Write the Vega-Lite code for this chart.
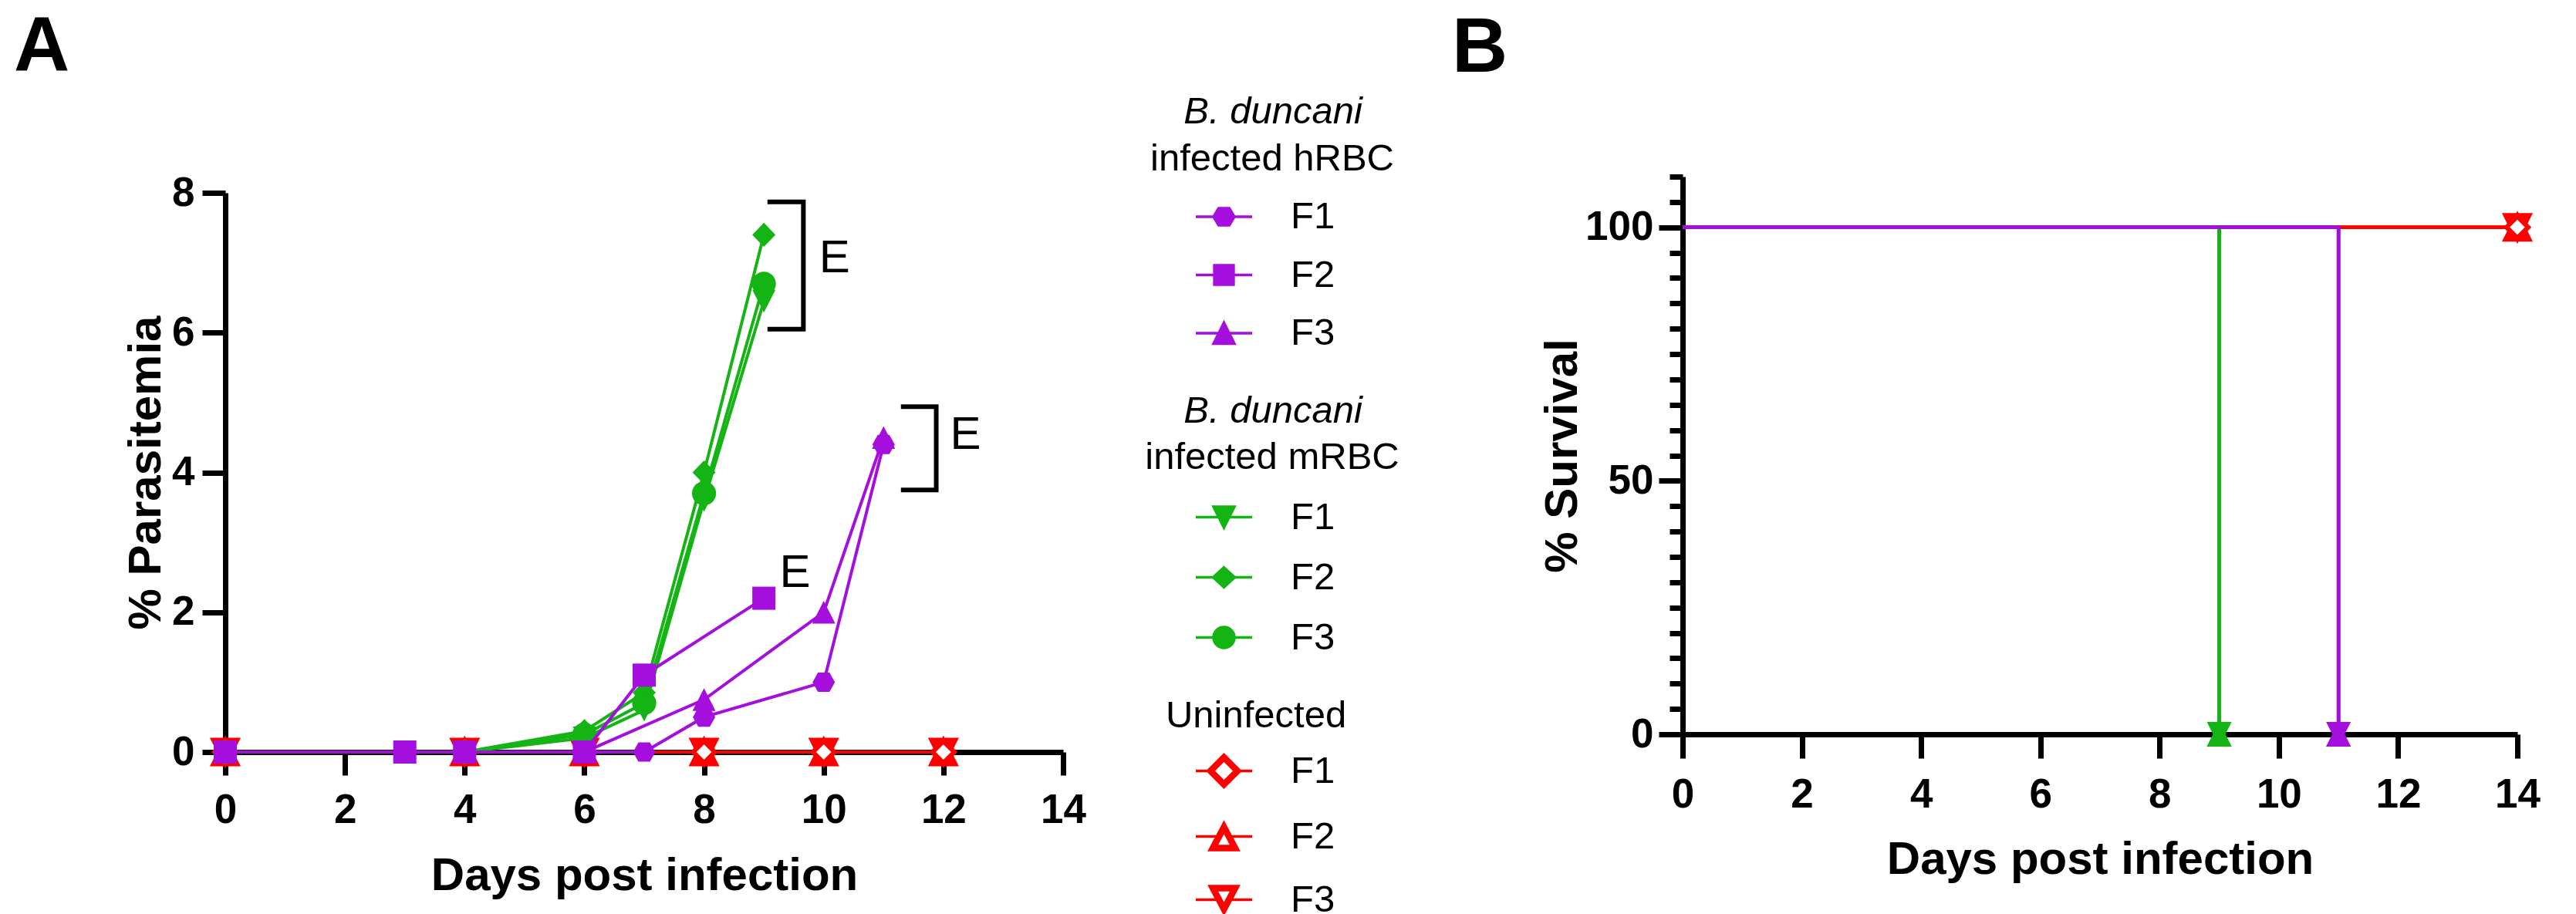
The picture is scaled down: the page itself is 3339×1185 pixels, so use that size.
{
  "$schema": "https://vega.github.io/schema/vega-lite/v6.json",
  "padding": {"left": 18, "top": 11, "right": 5, "bottom": 0},
  "autosize": {"type": "pad"},
  "background": "white",
  "spacing": 68,
  "config": {
    "font": "Liberation Sans",
    "view": {"stroke": null},
    "axis": {
      "domainColor": "#000000", "domainWidth": 7, "tickColor": "#000000", "tickWidth": 7, "format": "d",
      "labelColor": "#000000", "labelFont": "Liberation Sans", "labelFontSize": 53, "labelFontWeight": "bold",
      "labelFlush": false, "labelOverlap": false, "titleColor": "#000000", "titleFont": "Liberation Sans",
      "titleFontSize": 60, "titleFontWeight": "bold", "grid": false, "zindex": 0
    },
    "title": {"font": "Liberation Sans", "fontSize": 100, "fontWeight": "bold", "color": "#000000", "anchor": "start", "frame": "group", "baseline": "top"},
    "legend": {
      "orient": "none", "padding": 0, "labelFont": "Liberation Sans", "labelFontSize": 49, "labelColor": "#000000",
      "labelLimit": 1000, "labelOffset": 48, "titleFont": "Liberation Sans", "titleFontSize": 49, "titleFontWeight": "normal",
      "titleColor": "#000000", "titleLimit": 1000, "titleAnchor": "start", "titleAlign": "center", "titleBaseline": "top",
      "symbolSize": 5329, "symbolStrokeWidth": 3.5, "symbolOpacity": 1
    }
  },
  "datasets": {
    "para": [
      {"group": "Uninfected", "mouse": "F2", "day": 0, "pct": 0},
      {"group": "Uninfected", "mouse": "F2", "day": 4, "pct": 0},
      {"group": "Uninfected", "mouse": "F2", "day": 6, "pct": 0},
      {"group": "Uninfected", "mouse": "F2", "day": 8, "pct": 0},
      {"group": "Uninfected", "mouse": "F2", "day": 10, "pct": 0},
      {"group": "Uninfected", "mouse": "F2", "day": 12, "pct": 0},
      {"group": "Uninfected", "mouse": "F3", "day": 0, "pct": 0},
      {"group": "Uninfected", "mouse": "F3", "day": 4, "pct": 0},
      {"group": "Uninfected", "mouse": "F3", "day": 6, "pct": 0},
      {"group": "Uninfected", "mouse": "F3", "day": 8, "pct": 0},
      {"group": "Uninfected", "mouse": "F3", "day": 10, "pct": 0},
      {"group": "Uninfected", "mouse": "F3", "day": 12, "pct": 0},
      {"group": "Uninfected", "mouse": "F1", "day": 0, "pct": 0},
      {"group": "Uninfected", "mouse": "F1", "day": 4, "pct": 0},
      {"group": "Uninfected", "mouse": "F1", "day": 6, "pct": 0},
      {"group": "Uninfected", "mouse": "F1", "day": 8, "pct": 0},
      {"group": "Uninfected", "mouse": "F1", "day": 10, "pct": 0},
      {"group": "Uninfected", "mouse": "F1", "day": 12, "pct": 0},
      {"group": "mRBC", "mouse": "F1", "day": 0, "pct": 0},
      {"group": "mRBC", "mouse": "F1", "day": 4, "pct": 0},
      {"group": "mRBC", "mouse": "F1", "day": 6, "pct": 0.2},
      {"group": "mRBC", "mouse": "F1", "day": 7, "pct": 0.6},
      {"group": "mRBC", "mouse": "F1", "day": 8, "pct": 3.6},
      {"group": "mRBC", "mouse": "F1", "day": 9, "pct": 6.45},
      {"group": "mRBC", "mouse": "F2", "day": 0, "pct": 0},
      {"group": "mRBC", "mouse": "F2", "day": 4, "pct": 0},
      {"group": "mRBC", "mouse": "F2", "day": 6, "pct": 0.3},
      {"group": "mRBC", "mouse": "F2", "day": 7, "pct": 0.85},
      {"group": "mRBC", "mouse": "F2", "day": 8, "pct": 4.0},
      {"group": "mRBC", "mouse": "F2", "day": 9, "pct": 7.4},
      {"group": "mRBC", "mouse": "F3", "day": 0, "pct": 0},
      {"group": "mRBC", "mouse": "F3", "day": 4, "pct": 0},
      {"group": "mRBC", "mouse": "F3", "day": 6, "pct": 0.25},
      {"group": "mRBC", "mouse": "F3", "day": 7, "pct": 0.7},
      {"group": "mRBC", "mouse": "F3", "day": 8, "pct": 3.7},
      {"group": "mRBC", "mouse": "F3", "day": 9, "pct": 6.7},
      {"group": "hRBC", "mouse": "F1", "day": 0, "pct": 0},
      {"group": "hRBC", "mouse": "F1", "day": 3, "pct": 0},
      {"group": "hRBC", "mouse": "F1", "day": 4, "pct": 0},
      {"group": "hRBC", "mouse": "F1", "day": 6, "pct": 0},
      {"group": "hRBC", "mouse": "F1", "day": 7, "pct": 0},
      {"group": "hRBC", "mouse": "F1", "day": 8, "pct": 0.5},
      {"group": "hRBC", "mouse": "F1", "day": 10, "pct": 1.0},
      {"group": "hRBC", "mouse": "F1", "day": 11, "pct": 4.4},
      {"group": "hRBC", "mouse": "F3", "day": 0, "pct": 0},
      {"group": "hRBC", "mouse": "F3", "day": 3, "pct": 0},
      {"group": "hRBC", "mouse": "F3", "day": 4, "pct": 0},
      {"group": "hRBC", "mouse": "F3", "day": 6, "pct": 0},
      {"group": "hRBC", "mouse": "F3", "day": 8, "pct": 0.75},
      {"group": "hRBC", "mouse": "F3", "day": 10, "pct": 2.0},
      {"group": "hRBC", "mouse": "F3", "day": 11, "pct": 4.5},
      {"group": "hRBC", "mouse": "F2", "day": 0, "pct": 0},
      {"group": "hRBC", "mouse": "F2", "day": 3, "pct": 0},
      {"group": "hRBC", "mouse": "F2", "day": 4, "pct": 0},
      {"group": "hRBC", "mouse": "F2", "day": 6, "pct": 0},
      {"group": "hRBC", "mouse": "F2", "day": 7, "pct": 1.1},
      {"group": "hRBC", "mouse": "F2", "day": 9, "pct": 2.2}
    ],
    "surv": [
      {"group": "Uninfected", "mouse": "F2", "day": 0, "pct": 100},
      {"group": "Uninfected", "mouse": "F2", "day": 14, "pct": 100},
      {"group": "Uninfected", "mouse": "F3", "day": 0, "pct": 100},
      {"group": "Uninfected", "mouse": "F3", "day": 14, "pct": 100},
      {"group": "Uninfected", "mouse": "F1", "day": 0, "pct": 100},
      {"group": "Uninfected", "mouse": "F1", "day": 14, "pct": 100},
      {"group": "mRBC", "mouse": "F1", "day": 0, "pct": 100},
      {"group": "mRBC", "mouse": "F1", "day": 9, "pct": 0},
      {"group": "mRBC", "mouse": "F2", "day": 0, "pct": 100},
      {"group": "mRBC", "mouse": "F2", "day": 9, "pct": 0},
      {"group": "mRBC", "mouse": "F3", "day": 0, "pct": 100},
      {"group": "mRBC", "mouse": "F3", "day": 9, "pct": 0},
      {"group": "hRBC", "mouse": "F1", "day": 0, "pct": 100},
      {"group": "hRBC", "mouse": "F1", "day": 11, "pct": 0},
      {"group": "hRBC", "mouse": "F3", "day": 0, "pct": 100},
      {"group": "hRBC", "mouse": "F3", "day": 11, "pct": 0},
      {"group": "hRBC", "mouse": "F2", "day": 0, "pct": 100},
      {"group": "hRBC", "mouse": "F2", "day": 11, "pct": 0}
    ],
    "etext": [
      {"day": 10.18, "pct": 7.06, "label": "E"},
      {"day": 12.37, "pct": 4.54, "label": "E"},
      {"day": 9.52, "pct": 2.56, "label": "E"}
    ],
    "brackets": [
      {"b": "1", "seq": 1, "day": 9.06, "pct": 7.87},
      {"b": "1", "seq": 2, "day": 9.66, "pct": 7.87},
      {"b": "1", "seq": 3, "day": 9.66, "pct": 6.05},
      {"b": "1", "seq": 4, "day": 9.06, "pct": 6.05},
      {"b": "2", "seq": 1, "day": 11.29, "pct": 4.94},
      {"b": "2", "seq": 2, "day": 11.88, "pct": 4.94},
      {"b": "2", "seq": 3, "day": 11.88, "pct": 3.75},
      {"b": "2", "seq": 4, "day": 11.29, "pct": 3.75}
    ]
  },
  "hconcat": [
    {
      "spacing": 0,
      "vconcat": [
        {
          "width": 1,
          "height": 1,
          "data": {"values": []},
          "mark": {"type": "point"},
          "encoding": {}
        },
        {
          "title": {"text": "A", "dx": -274, "offset": 8},
          "width": 1086,
          "height": 725,
          "resolve": {"scale": {"shape": "independent"}},
          "layer": [
            {
              "data": {"name": "para"},
              "transform": [{"filter": "datum.group === 'Uninfected'"}],
              "mark": {"type": "line", "color": "#ff0000", "strokeWidth": 4},
              "encoding": {
                "x": {"field": "day", "type": "quantitative", "title": "Days post infection",
                      "scale": {"domain": [0, 14], "nice": false, "zero": false},
                      "axis": {"values": [0, 2, 4, 6, 8, 10, 12, 14], "tickSize": 30, "labelPadding": 19, "titlePadding": 29}},
                "y": {"field": "pct", "type": "quantitative", "title": "% Parasitemia",
                      "scale": {"domain": [0, 8], "nice": false},
                      "axis": {"values": [0, 2, 4, 6, 8], "tickSize": 30, "labelPadding": 10, "titlePadding": 2}},
                "detail": {"field": "mouse"}
              }
            },
            {
              "data": {"name": "para"},
              "transform": [{"filter": "datum.group === 'Uninfected' && datum.mouse !== 'F1'"}],
              "mark": {"type": "point", "filled": true, "fill": "#ff0000", "stroke": "#ff0000", "strokeWidth": 5, "size": 1600, "opacity": 1},
              "encoding": {
                "x": {"field": "day", "type": "quantitative", "title": "Days post infection"},
                "y": {"field": "pct", "type": "quantitative", "title": "% Parasitemia"},
                "shape": {"field": "mouse", "type": "nominal", "legend": null,
                          "scale": {"domain": ["F2", "F3"], "range": ["M0,-0.8L0.8,0.8L-0.8,0.8Z", "M0,0.8L0.8,-0.8L-0.8,-0.8Z"]}}
              }
            },
            {
              "data": {"name": "para"},
              "transform": [{"filter": "datum.group === 'Uninfected' && datum.mouse === 'F1'"}],
              "mark": {"type": "point", "filled": true, "fill": "#ffffff", "stroke": "#ff0000", "strokeWidth": 6, "size": 1600, "opacity": 1, "shape": "M0,-0.7L0.7,0L0,0.7L-0.7,0Z"},
              "encoding": {
                "x": {"field": "day", "type": "quantitative", "title": "Days post infection"},
                "y": {"field": "pct", "type": "quantitative", "title": "% Parasitemia"}
              }
            },
            {
              "data": {"name": "para"},
              "transform": [{"filter": "datum.group === 'mRBC'"}],
              "mark": {"type": "line", "color": "#14b414", "strokeWidth": 4},
              "encoding": {
                "x": {"field": "day", "type": "quantitative", "title": "Days post infection"},
                "y": {"field": "pct", "type": "quantitative", "title": "% Parasitemia"},
                "detail": {"field": "mouse"}
              }
            },
            {
              "data": {"name": "para"},
              "transform": [{"filter": "datum.group === 'mRBC'"}],
              "mark": {"type": "point", "filled": true, "color": "#14b414", "size": 1600, "opacity": 1},
              "encoding": {
                "x": {"field": "day", "type": "quantitative", "title": "Days post infection"},
                "y": {"field": "pct", "type": "quantitative", "title": "% Parasitemia"},
                "shape": {"field": "mouse", "type": "nominal", "legend": null,
                          "scale": {"domain": ["F1", "F2", "F3"], "range": ["M0,0.74L0.75,-0.74L-0.75,-0.74Z", "M0,-0.78L0.75,0L0,0.78L-0.75,0Z", "M-0.78,0A0.78,0.78,0,1,1,0.78,0A0.78,0.78,0,1,1,-0.78,0Z"]}}
              }
            },
            {
              "data": {"name": "para"},
              "transform": [{"filter": "datum.group === 'hRBC'"}],
              "mark": {"type": "line", "color": "#a40fdd", "strokeWidth": 4},
              "encoding": {
                "x": {"field": "day", "type": "quantitative", "title": "Days post infection"},
                "y": {"field": "pct", "type": "quantitative", "title": "% Parasitemia"},
                "detail": {"field": "mouse"}
              }
            },
            {
              "data": {"name": "para"},
              "transform": [{"filter": "datum.group === 'hRBC'"}],
              "mark": {"type": "point", "filled": true, "color": "#a40fdd", "size": 1600, "opacity": 1},
              "encoding": {
                "x": {"field": "day", "type": "quantitative", "title": "Days post infection"},
                "y": {"field": "pct", "type": "quantitative", "title": "% Parasitemia"},
                "shape": {"field": "mouse", "type": "nominal", "legend": null,
                          "scale": {"domain": ["F1", "F2", "F3"], "range": ["M-0.725,0L-0.375,-0.625L0.375,-0.625L0.725,0L0.375,0.625L-0.375,0.625Z", "M-0.75,-0.75L0.75,-0.75L0.75,0.75L-0.75,0.75Z", "M0,-0.74L0.75,0.74L-0.75,0.74Z"]}}
              }
            },
            {
              "data": {"name": "brackets"},
              "mark": {"type": "line", "color": "#000000", "strokeWidth": 6, "strokeJoin": "miter", "strokeCap": "butt"},
              "encoding": {
                "x": {"field": "day", "type": "quantitative", "title": "Days post infection"},
                "y": {"field": "pct", "type": "quantitative", "title": "% Parasitemia"},
                "detail": {"field": "b"},
                "order": {"field": "seq", "type": "quantitative"}
              }
            },
            {
              "data": {"name": "etext"},
              "mark": {"type": "text", "font": "Liberation Sans", "fontSize": 60, "color": "#000000", "align": "center", "baseline": "middle"},
              "encoding": {
                "x": {"field": "day", "type": "quantitative", "title": "Days post infection"},
                "y": {"field": "pct", "type": "quantitative", "title": "% Parasitemia"},
                "text": {"field": "label"}
              }
            },
            {
              "data": {"values": []},
              "mark": {"type": "point", "filled": true, "fill": "#a40fdd", "stroke": "#a40fdd", "strokeWidth": 3.5, "opacity": 1},
              "encoding": {
                "shape": {"field": "label", "type": "nominal",
                  "scale": {"domain": ["infected hRBC", "F1", "F2", "F3"],
                            "range": ["M0,0", "M-1,0L1,0M-0.37,0L-0.19,-0.3L0.19,-0.3L0.37,0L0.19,0.3L-0.19,0.3Z", "M-1,0L1,0M-0.34,-0.34L0.34,-0.34L0.34,0.34L-0.34,0.34Z", "M-1,0L1,0M0,-0.37L0.37,0.37L-0.37,0.37Z"]},
                  "legend": {
                    "title": "B. duncani", "titleFontStyle": "italic", "legendX": 1242, "legendY": -129,
                    "titlePadding": -3, "rowPadding": 11.5,
                    "encoding": {
                      "title": {"dx": {"value": 102}},
                      "labels": {"align": {"value": {"expr": "datum.index === 0 ? 'center' : 'left'"}}, "dx": {"value": {"expr": "datum.index === 0 ? -24 : 0"}}},
                      "symbols": {"fill": {"value": "#a40fdd"}, "stroke": {"value": "#a40fdd"}, "strokeWidth": {"value": 3.5}, "opacity": {"value": 1}}
                    }
                  }
                }
              }
            },
            {
              "data": {"values": []},
              "mark": {"type": "point", "filled": true, "fill": "#14b414", "stroke": "#14b414", "strokeWidth": 3.5, "opacity": 1},
              "encoding": {
                "shape": {"field": "label", "type": "nominal",
                  "scale": {"domain": ["infected mRBC", "F1", "F2", "F3"],
                            "range": ["M0,0", "M-1,0L1,0M0,0.37L0.37,-0.37L-0.37,-0.37Z", "M-1,0L1,0M0,-0.35L0.38,0L0,0.35L-0.38,0Z", "M-1,0L1,0M-0.37,0A0.37,0.37,0,1,1,0.37,0A0.37,0.37,0,1,1,-0.37,0Z"]},
                  "legend": {
                    "title": "B. duncani", "titleFontStyle": "italic", "legendX": 1242, "legendY": 259,
                    "titlePadding": -4, "rowPadding": 14,
                    "encoding": {
                      "title": {"dx": {"value": 102}},
                      "labels": {"align": {"value": {"expr": "datum.index === 0 ? 'center' : 'left'"}}, "dx": {"value": {"expr": "datum.index === 0 ? -24 : 0"}}},
                      "symbols": {"fill": {"value": "#14b414"}, "stroke": {"value": "#14b414"}, "strokeWidth": {"value": 3.5}, "opacity": {"value": 1}}
                    }
                  }
                }
              }
            },
            {
              "data": {"values": []},
              "mark": {"type": "point", "filled": true, "fill": "#ff0000", "stroke": "#ff0000", "strokeWidth": 3.5, "opacity": 1},
              "encoding": {
                "shape": {"field": "label", "type": "nominal",
                  "scale": {"domain": ["F1", "F2", "F3"],
                            "range": ["M-1,0L-0.575,0M0.575,0L1,0M0,-0.575L0.575,0L0,0.575L-0.575,0ZM0,-0.384L-0.384,0L0,0.384L0.384,0Z", "M-1,0L-0.253,0M0.253,0L1,0M0,-0.479L0.507,0.479L-0.507,0.479ZM0,-0.186L-0.279,0.342L0.279,0.342Z", "M-1,0L-0.253,0M0.253,0L1,0M0,0.479L0.507,-0.479L-0.507,-0.479ZM0,0.186L-0.279,-0.342L0.279,-0.342Z"]},
                  "legend": {
                    "title": "Uninfected", "legendX": 1219, "legendY": 654,
                    "titlePadding": 8, "rowPadding": 18,
                    "encoding": {
                      "title": {"dx": {"value": 80}},
                      "symbols": {"fill": {"value": "#ff0000"}, "stroke": {"value": "#ff0000"}, "strokeWidth": {"value": 3.5}, "opacity": {"value": 1}}
                    }
                  }
                }
              }
            }
          ]
        }
      ]
    },
    {
      "spacing": 0,
      "vconcat": [
        {
          "width": 1,
          "height": 1,
          "data": {"values": []},
          "mark": {"type": "point"},
          "encoding": {}
        },
        {
          "title": {"text": "B", "dx": -299, "offset": 112},
          "width": 1082,
          "height": 723,
          "resolve": {"axis": {"y": "independent"}},
          "layer": [
            {
              "data": {"name": "surv"},
              "transform": [{"filter": "datum.group === 'Uninfected'"}],
              "mark": {"type": "line", "color": "#ff0000", "strokeWidth": 4.5, "interpolate": "step-after"},
              "encoding": {
                "x": {"field": "day", "type": "quantitative", "title": "Days post infection",
                      "scale": {"domain": [0, 14], "nice": false, "zero": false},
                      "axis": {"values": [0, 2, 4, 6, 8, 10, 12, 14], "tickSize": 31, "labelPadding": 21, "titlePadding": 28}},
                "y": {"field": "pct", "type": "quantitative", "title": "% Survival",
                      "scale": {"domain": [0, 110], "nice": false},
                      "axis": {"orient": "left", "values": [0, 50, 100], "tickSize": 31, "labelPadding": 7, "titlePadding": -1.5}},
                "detail": {"field": "mouse"}
              }
            },
            {
              "data": {"name": "surv"},
              "transform": [{"filter": "datum.group === 'mRBC'"}],
              "mark": {"type": "line", "color": "#14b414", "strokeWidth": 4.5, "interpolate": "step-after"},
              "encoding": {
                "x": {"field": "day", "type": "quantitative", "title": "Days post infection"},
                "y": {"field": "pct", "type": "quantitative", "title": null,
                      "axis": {"orient": "left", "values": [5, 10, 15, 20, 25, 30, 35, 40, 45, 55, 60, 65, 70, 75, 80, 85, 90, 95, 105, 110], "tickSize": 17, "labels": false, "domain": false, "title": null}},
                "detail": {"field": "mouse"}
              }
            },
            {
              "data": {"name": "surv"},
              "transform": [{"filter": "datum.group === 'hRBC'"}],
              "mark": {"type": "line", "color": "#a40fdd", "strokeWidth": 4.5, "interpolate": "step-after"},
              "encoding": {
                "x": {"field": "day", "type": "quantitative", "title": "Days post infection"},
                "y": {"field": "pct", "type": "quantitative", "axis": null},
                "detail": {"field": "mouse"}
              }
            },
            {
              "data": {"name": "surv"},
              "transform": [{"filter": "datum.group === 'Uninfected' && datum.day > 0 && datum.mouse !== 'F1'"}],
              "mark": {"type": "point", "filled": true, "fill": "#ff0000", "stroke": "#ff0000", "strokeWidth": 5, "size": 1600, "opacity": 1},
              "encoding": {
                "x": {"field": "day", "type": "quantitative", "title": "Days post infection"},
                "y": {"field": "pct", "type": "quantitative", "axis": null},
                "shape": {"field": "mouse", "type": "nominal", "legend": null,
                          "scale": {"domain": ["F2", "F3"], "range": ["M0,-0.8L0.8,0.8L-0.8,0.8Z", "M0,0.8L0.8,-0.8L-0.8,-0.8Z"]}}
              }
            },
            {
              "data": {"name": "surv"},
              "transform": [{"filter": "datum.group === 'Uninfected' && datum.day > 0 && datum.mouse === 'F1'"}],
              "mark": {"type": "point", "filled": true, "fill": "#ffffff", "stroke": "#ff0000", "strokeWidth": 6, "size": 1600, "opacity": 1, "shape": "M0,-0.7L0.7,0L0,0.7L-0.7,0Z"},
              "encoding": {
                "x": {"field": "day", "type": "quantitative", "title": "Days post infection"},
                "y": {"field": "pct", "type": "quantitative", "axis": null}
              }
            },
            {
              "data": {"name": "surv"},
              "transform": [{"filter": "datum.group === 'mRBC' && datum.day > 0"}],
              "mark": {"type": "point", "filled": true, "color": "#14b414", "size": 1600, "opacity": 1},
              "encoding": {
                "x": {"field": "day", "type": "quantitative", "title": "Days post infection"},
                "y": {"field": "pct", "type": "quantitative", "axis": null},
                "shape": {"field": "mouse", "type": "nominal", "legend": null,
                          "scale": {"domain": ["F1", "F2", "F3"], "range": ["M0,0.74L0.75,-0.74L-0.75,-0.74Z", "M0,-0.78L0.75,0L0,0.78L-0.75,0Z", "M-0.78,0A0.78,0.78,0,1,1,0.78,0A0.78,0.78,0,1,1,-0.78,0Z"]}}
              }
            },
            {
              "data": {"name": "surv"},
              "transform": [{"filter": "datum.group === 'hRBC' && datum.day > 0"}],
              "mark": {"type": "point", "filled": true, "color": "#a40fdd", "size": 1600, "opacity": 1},
              "encoding": {
                "x": {"field": "day", "type": "quantitative", "title": "Days post infection"},
                "y": {"field": "pct", "type": "quantitative", "axis": null},
                "shape": {"field": "mouse", "type": "nominal", "legend": null,
                          "scale": {"domain": ["F1", "F2", "F3"], "range": ["M-0.725,0L-0.375,-0.625L0.375,-0.625L0.725,0L0.375,0.625L-0.375,0.625Z", "M-0.75,-0.75L0.75,-0.75L0.75,0.75L-0.75,0.75Z", "M0,-0.74L0.75,0.74L-0.75,0.74Z"]}}
              }
            }
          ]
        }
      ]
    }
  ]
}
